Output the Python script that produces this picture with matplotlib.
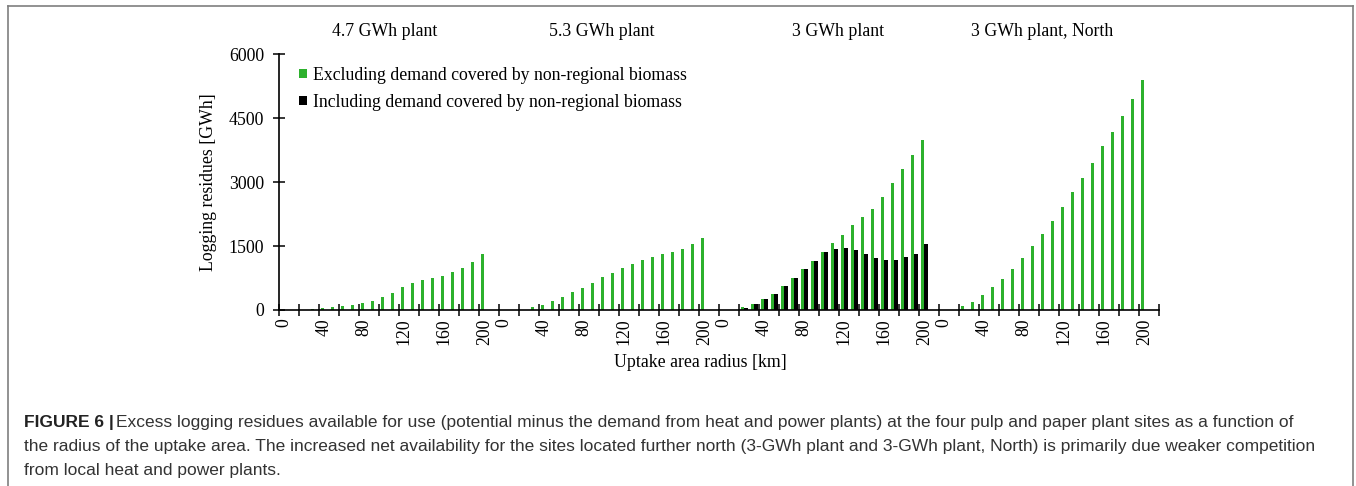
import matplotlib
matplotlib.use('Agg')
import numpy as np
from matplotlib import pyplot as plt
from matplotlib.lines import Line2D

# radius categories, km (one per bar slot in each plant group)
radii = [0, 10, 20, 30, 40, 50, 60, 70, 80, 90, 100,
         110, 120, 130, 140, 150, 160, 170, 180, 190, 200]
label_radii = [0, 40, 80, 120, 160, 200]
plants = ['4.7 GWh plant', '5.3 GWh plant', '3 GWh plant', '3 GWh plant, North']

# excluding demand covered by non-regional biomass [GWh]
excl_47 = [0, 0, 0, 20, 45, 70, 85, 117, 164, 219, 297,
           406, 547, 633, 696, 742, 797, 883, 992, 1133, 1305]
excl_53 = [0, 0, 0, 62, 125, 211, 312, 422, 523, 633, 766,
           875, 977, 1078, 1180, 1242, 1305, 1367, 1437, 1554, 1688]
excl_3 = [0, 0, 60, 140, 258, 375, 553, 757, 961, 1156, 1367,
          1570, 1758, 1984, 2171, 2367, 2640, 2968, 3305, 3624, 3980]
excl_3n = [0, 0, 86, 195, 359, 547, 734, 969, 1227, 1500, 1789,
           2078, 2406, 2757, 3102, 3453, 3836, 4180, 4548, 4946, 5390]

# including demand covered by non-regional biomass [GWh] (only 3 GWh plant)
incl_3 = [0, 0, 50, 140, 250, 370, 553, 750, 955, 1150, 1360,
          1437, 1445, 1413, 1320, 1210, 1172, 1180, 1242, 1313, 1545]

excl = [excl_47, excl_53, excl_3, excl_3n]
incl = [None, None, incl_3, None]

green = '#2db12d'
serif = 'Liberation Serif'
fs = 12.8

fig = plt.figure(figsize=(13.56, 4.86), dpi=100)
W, H = 1356, 486
# axes placed in pixels: x from 279 to 1159, y zero at 310, 6000 at 54
ax = fig.add_axes([279.3 / W, (H - 310) / H, 880 / W, 256 / H])

n = len(radii)
slot = n + 1  # one empty slot between plants
bw = 0.35
for g in range(4):
    xs = np.arange(n) + g * slot
    ax.bar(xs - bw / 2, excl[g], width=bw, color=green, linewidth=0,
           label='Excluding demand covered by non-regional biomass' if g == 0 else None)
    if incl[g] is not None:
        ax.bar(xs + bw / 2, incl[g], width=bw, color='black', linewidth=0)
# dummy for legend entry of black series
ax.bar([np.nan], [np.nan], color='black',
       label='Including demand covered by non-regional biomass')

ax.set_xlim(-0.5, 4 * slot - 0.5)
ax.set_ylim(0, 6000)
for s in ['top', 'right']:
    ax.spines[s].set_visible(False)
for s in ['left', 'bottom']:
    ax.spines[s].set_linewidth(1.2)

ax.set_yticks([0, 1500, 3000, 4500, 6000])
ax.tick_params(axis='y', direction='inout', length=8, width=1.1, labelsize=fs, pad=7)
ax.set_xticks(np.arange(-0.5, 4 * slot, 2))
ax.set_xticklabels([])
ax.tick_params(axis='x', which='major', direction='inout', length=8, width=1.1)
minor_pos = []
minor_lab = []
for g in range(4):
    for r in label_radii:
        minor_pos.append(g * slot + radii.index(r))
        minor_lab.append(str(r))
ax.set_xticks(minor_pos, minor=True)
ax.set_xticklabels(minor_lab, minor=True, rotation=90)
ax.tick_params(axis='x', which='minor', length=0, labelsize=fs, pad=6)
for lab in ax.get_xticklabels(minor=True) + ax.get_yticklabels():
    lab.set_family(serif)

ax.set_ylabel('Logging residues [GWh]', family=serif, fontsize=fs, labelpad=8)
fig.text(700 / W, 1 - 362 / H, 'Uptake area radius [km]', family=serif,
         fontsize=fs, ha='center', va='center')

leg = ax.legend(loc='upper left', bbox_to_anchor=(0.014, 0.977), frameon=False,
                prop={'family': serif, 'size': fs}, handlelength=0.45,
                handleheight=0.45, handletextpad=0.35, labelspacing=0.55,
                borderaxespad=0)

title_x = [385, 602, 838, 1042]
for t, x in zip(plants, title_x):
    fig.text(x / W, 1 - 31 / H, t, family=serif, fontsize=fs, ha='center', va='center')

# gray frame around the chart panel
fc = '#7f7f7f'
fig.add_artist(Line2D([8 / W, 8 / W], [0, 1 - 6 / H], color=fc, lw=1.2))
fig.add_artist(Line2D([8 / W, 1353 / W], [1 - 6 / H, 1 - 6 / H], color=fc, lw=1.2))
fig.add_artist(Line2D([1353 / W, 1353 / W], [0, 1 - 6 / H], color=fc, lw=1.2))

# caption
cap_font = 'Liberation Sans'
cfs = 12.55
lines = ['Excess logging residues available for use (potential minus the demand from heat and power plants) at the four pulp and paper plant sites as a function of',
         'the radius of the uptake area. The increased net availability for the sites located further north (3-GWh plant and 3-GWh plant, North) is primarily due weaker competition',
         'from local heat and power plants.']
bold = fig.text(24 / W, 1 - 422 / H, 'FIGURE 6 |', family=cap_font, fontsize=cfs,
                weight='bold', va='center', color='#222222')
fig.canvas.draw()
bb = bold.get_window_extent()
fig.text((bb.x1 + 2) / W, 1 - 422 / H, lines[0], family=cap_font, fontsize=cfs,
         va='center', color='#333333')
fig.text(24 / W, 1 - 446 / H, lines[1], family=cap_font, fontsize=cfs,
         va='center', color='#333333')
fig.text(24 / W, 1 - 470 / H, lines[2], family=cap_font, fontsize=cfs,
         va='center', color='#333333')

fig.savefig('out.png', dpi=100)
